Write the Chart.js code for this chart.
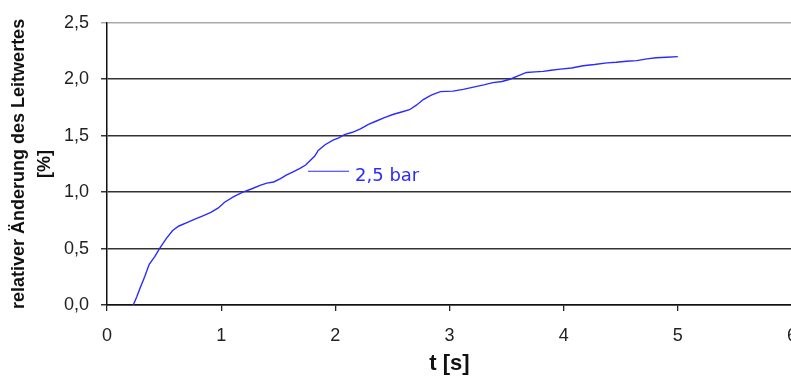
<!DOCTYPE html>
<html>
<head>
<meta charset="utf-8">
<script src="https://cdn.jsdelivr.net/npm/chart.js@4/dist/chart.umd.min.js"></script>
<style>
  html, body { margin: 0; padding: 0; background: #fff; overflow: hidden; }
  #wrap { width: 811px; height: 376px; }
</style>
</head>
<body>
<div id="wrap"><canvas id="chart"></canvas></div>
<script>
// Zeit in s und relative Änderung des Leitwertes in %
const seriesLabel = '2,5 bar';
const timeValues = [0.23, 0.26, 0.29, 0.33, 0.37, 0.42, 0.46, 0.52, 0.575, 0.63, 0.70, 0.77, 0.84, 0.91, 0.975,
  1.03, 1.11, 1.19, 1.27, 1.34, 1.40, 1.46, 1.52, 1.57, 1.63, 1.69, 1.74, 1.78, 1.82, 1.85, 1.91, 1.98,
  2.03, 2.08, 2.15, 2.22, 2.29, 2.36, 2.43, 2.51, 2.58, 2.65, 2.71, 2.77, 2.84, 2.92,
  3.03, 3.12, 3.21, 3.30, 3.38, 3.46, 3.53, 3.60, 3.675, 3.75, 3.82, 3.89, 3.97,
  4.07, 4.17, 4.27, 4.38, 4.46, 4.55, 4.64, 4.73, 4.81, 4.90, 5.0];
const changeValues = [0, 0.07, 0.15, 0.25, 0.36, 0.43, 0.50, 0.59, 0.66, 0.70, 0.73, 0.76, 0.79, 0.82, 0.86,
  0.91, 0.96, 1.0, 1.03, 1.06, 1.08, 1.09, 1.12, 1.15, 1.18, 1.21, 1.24, 1.28, 1.32, 1.37, 1.42, 1.46,
  1.48, 1.51, 1.53, 1.56, 1.60, 1.63, 1.66, 1.69, 1.71, 1.73, 1.77, 1.82, 1.86, 1.89,
  1.895, 1.91, 1.93, 1.95, 1.97, 1.98, 2.0, 2.03, 2.06, 2.065, 2.07, 2.08, 2.09,
  2.10, 2.12, 2.13, 2.145, 2.15, 2.16, 2.165, 2.18, 2.19, 2.195, 2.20];
const xTicks = [0, 1, 2, 3, 4, 5, 6];
const yTicks = [0, 0.5, 1.0, 1.5, 2.0, 2.5];
// Lage der Beschriftung im Diagramm (Datenkoordinaten)
const labelLine = [1.76, 2.12];
const labelLevel = 1.185;

const lineColor = '#2b2bff';
const tickFont = { family: 'Liberation Sans, Arial, sans-serif', size: 18 };

// Beschriftung direkt neben der Kurve
const inlineLabel = {
  id: 'inlineLabel',
  afterDatasetsDraw(chart) {
    const { ctx, scales: { x, y } } = chart;
    const x0 = x.getPixelForValue(labelLine[0]);
    const x1 = x.getPixelForValue(labelLine[1]);
    const yy = y.getPixelForValue(labelLevel);
    ctx.save();
    ctx.strokeStyle = lineColor;
    ctx.lineWidth = 1.2;
    ctx.beginPath();
    ctx.moveTo(x0, yy);
    ctx.lineTo(x1, yy);
    ctx.stroke();
    ctx.fillStyle = lineColor;
    ctx.font = '18px "DejaVu Sans", Tahoma, sans-serif';
    ctx.textBaseline = 'middle';
    ctx.fillText(chart.data.datasets[0].label, x1 + 6, yy + 5);
    ctx.restore();
  }
};

new Chart(document.getElementById('chart'), {
  type: 'line',
  data: {
    datasets: [{
      label: seriesLabel,
      data: timeValues.map((t, i) => ({ x: t, y: changeValues[i] })),
      borderColor: lineColor,
      borderWidth: 1.4,
      pointRadius: 0,
      tension: 0,
      fill: false
    }]
  },
  options: {
    responsive: true,
    maintainAspectRatio: false,
    animation: false,
    layout: { padding: { top: 19, left: 0, right: 0, bottom: 0 } },
    plugins: { legend: { display: false }, tooltip: { enabled: false } },
    scales: {
      x: {
        type: 'linear',
        min: 0,
        max: 6,
        afterBuildTicks: s => { s.ticks = xTicks.map(v => ({ value: v })); },
        afterFit: s => { s.height = 71; },
        grid: { drawOnChartArea: false, drawTicks: true, tickLength: 6, color: '#222', lineWidth: 1.3 },
        border: { color: '#111', width: 1.5 },
        ticks: { color: '#222', font: tickFont, padding: 14, callback: v => String(v) },
        title: {
          display: true,
          text: 't [s]',
          color: '#111',
          font: { family: 'Liberation Sans, Arial, sans-serif', size: 22, weight: 'bold' },
          padding: { top: 0, bottom: -1 }
        }
      },
      y: {
        min: 0,
        max: 2.5,
        afterBuildTicks: s => { s.ticks = yTicks.map(v => ({ value: v })); },
        afterFit: s => { s.width = 107; },
        grid: {
          drawTicks: true,
          tickLength: 6,
          color: ctx => ctx.tick && ctx.tick.value === 2.5 ? '#aaa' : '#333',
          lineWidth: 1.5
        },
        border: { color: '#111', width: 1.5 },
        ticks: {
          color: '#222',
          font: tickFont,
          padding: 12,
          callback: v => v.toFixed(1).replace('.', ',')
        },
        title: {
          display: true,
          text: ['relativer Änderung des Leitwertes', '[%]'],
          color: '#111',
          font: { family: 'Liberation Sans Narrow, Arial Narrow, sans-serif', size: 18, weight: 'bold', lineHeight: 1.45 },
          padding: { top: 6, bottom: 0 }
        }
      }
    }
  },
  plugins: [inlineLabel]
});
</script>
</body>
</html>
